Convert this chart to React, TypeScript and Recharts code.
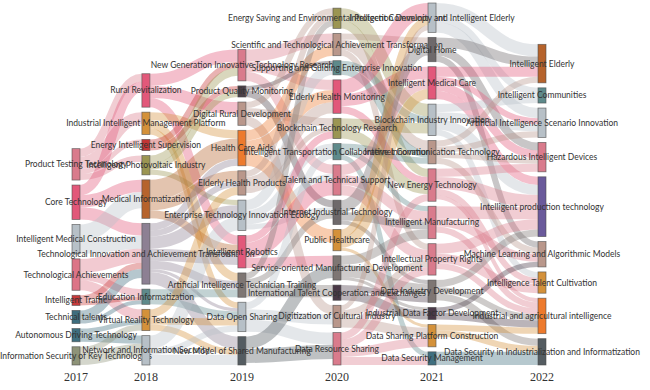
import React from 'react';
import { Sankey } from 'recharts';

const years = ['2017', '2018', '2019', '2020', '2021', '2022'];

const nodes2017 = ['Product Testing Technology', 'Core Technology', 'Intelligent Medical Construction', 'Technological Achievements', 'Intelligent Traffic', 'Technical talents', 'Autonomous Driving Technology', 'Information Security of Key Technologies'];
const colors2017 = ['#d97b8c', '#e2587a', '#b7c0c7', '#dc7487', '#c73a3a', '#3e6d7e', '#3f6f7f', '#8e9378'];

const nodes2018 = ['Rural Revitalization', 'Industrial Intelligent Management Platform', 'Energy Intelligent Supervision', 'Intelligent Photovoltaic Industry', 'Medical Informatization', 'Technological Innovation and Achievement Transformation', 'Education Informatization', 'Virtual Reality Technology', 'Network and Information Security'];
const colors2018 = ['#e2587a', '#d4913a', '#c43434', '#9b9552', '#b6632c', '#8d8093', '#5e8a8b', '#d4913a', '#b7c0c7'];

const nodes2019 = ['New Generation Innovative Technology Research', 'Product Quality Monitoring', 'Digital Rural Development', 'Health Care Aids', 'Elderly Health Products', 'Enterprise Technology Innovation Ecology', 'Intelligent Robotics', 'Artificial Intelligence Technician Training', 'Data Open Sharing', 'New Model of Shared Manufacturing'];
const colors2019 = ['#d97b8c', '#4b4149', '#b9978b', '#ed7a2d', '#b9978b', '#b7c0c7', '#e2587a', '#7e7673', '#b7c0c7', '#545c61'];

const nodes2020 = ['Energy Saving and Environmental Protection Development', 'Scientific and Technological Achievement Transformation', 'Supporting and Guiding Enterprise Innovation', 'Elderly Health Monitoring', 'Blockchain Technology Research', 'Intelligent Transportation Collaborative Innovation', 'Talent and Technical Support', 'Internet Industrial Technology', 'Public Healthcare', 'Service-oriented Manufacturing Development', 'International Talent Cooperation and Exchanges', 'Digitization of Cultural Industry', 'Data Resource Sharing'];
const colors2020 = ['#9b9552', '#b9978b', '#5e8a8b', '#e2587a', '#9b9552', '#5e8a8b', '#d97b8c', '#6e696b', '#d4913a', '#7e7673', '#4a3947', '#b9978b', '#d97b8c'];

const nodes2021 = ['Intelligent Community and Intelligent Elderly', 'Digital Home', 'Intelligent Medical Care', 'Blockchain Industry Innovation', 'Internet Communication Technology', 'New Energy Technology', 'Intelligent Manufacturing', 'Intellectual Property Rights', 'Data Industry Development', 'Industrial Data Factor Development', 'Data Sharing Platform Construction', 'Data Security Management'];
const colors2021 = ['#b7c0c7', '#6e696b', '#e2587a', '#b7c0c7', '#b9978b', '#d97b8c', '#d97b8c', '#d97b8c', '#7e7673', '#4a3947', '#d4913a', '#3f6f7f'];

const nodes2022 = ['Intelligent Elderly', 'Intelligent Communities', 'Artificial Intelligence Scenario Innovation', 'Hazardous Intelligent Devices', 'Intelligent production technology', 'Machine Learning and Algorithmic Models', 'Intelligence Talent Cultivation', 'Industrial and agricultural intelligence', 'Data Security in Industrialization and Informatization'];
const colors2022 = ['#b6632c', '#5e8a8b', '#b7c0c7', '#d97b8c', '#6a5a9b', '#b9978b', '#d4913a', '#ed7a2d', '#545c61'];

type Flow = [string, string, number];

const flows2017to2018: Flow[] = [
  ['Product Testing Technology', 'Rural Revitalization', 8],
  ['Product Testing Technology', 'Industrial Intelligent Management Platform', 12],
  ['Product Testing Technology', 'Energy Intelligent Supervision', 5],
  ['Product Testing Technology', 'Intelligent Photovoltaic Industry', 6],
  ['Core Technology', 'Rural Revitalization', 10],
  ['Core Technology', 'Medical Informatization', 12],
  ['Core Technology', 'Technological Innovation and Achievement Transformation', 12],
  ['Intelligent Medical Construction', 'Medical Informatization', 16],
  ['Intelligent Medical Construction', 'Technological Innovation and Achievement Transformation', 13],
  ['Technological Achievements', 'Technological Innovation and Achievement Transformation', 14],
  ['Technological Achievements', 'Education Informatization', 7],
  ['Technological Achievements', 'Virtual Reality Technology', 10],
  ['Intelligent Traffic', 'Technological Innovation and Achievement Transformation', 6],
  ['Intelligent Traffic', 'Education Informatization', 4],
  ['Technical talents', 'Education Informatization', 4],
  ['Technical talents', 'Technological Innovation and Achievement Transformation', 9],
  ['Autonomous Driving Technology', 'Network and Information Security', 8],
  ['Autonomous Driving Technology', 'Virtual Reality Technology', 5],
  ['Information Security of Key Technologies', 'Network and Information Security', 12],
  ['Information Security of Key Technologies', 'Virtual Reality Technology', 6],
];

const flows2018to2019: Flow[] = [
  ['Rural Revitalization', 'New Generation Innovative Technology Research', 12],
  ['Rural Revitalization', 'Digital Rural Development', 12],
  ['Rural Revitalization', 'Intelligent Robotics', 9],
  ['Industrial Intelligent Management Platform', 'Health Care Aids', 8],
  ['Industrial Intelligent Management Platform', 'Data Open Sharing', 6],
  ['Industrial Intelligent Management Platform', 'Artificial Intelligence Technician Training', 8],
  ['Energy Intelligent Supervision', 'Product Quality Monitoring', 5],
  ['Energy Intelligent Supervision', 'New Generation Innovative Technology Research', 6],
  ['Intelligent Photovoltaic Industry', 'New Generation Innovative Technology Research', 8],
  ['Intelligent Photovoltaic Industry', 'Product Quality Monitoring', 6],
  ['Intelligent Photovoltaic Industry', 'Enterprise Technology Innovation Ecology', 5],
  ['Medical Informatization', 'Health Care Aids', 20],
  ['Medical Informatization', 'Elderly Health Products', 10],
  ['Medical Informatization', 'Intelligent Robotics', 8],
  ['Technological Innovation and Achievement Transformation', 'Enterprise Technology Innovation Ecology', 12],
  ['Technological Innovation and Achievement Transformation', 'Elderly Health Products', 6],
  ['Technological Innovation and Achievement Transformation', 'Intelligent Robotics', 12],
  ['Technological Innovation and Achievement Transformation', 'Artificial Intelligence Technician Training', 8],
  ['Technological Innovation and Achievement Transformation', 'New Model of Shared Manufacturing', 12],
  ['Technological Innovation and Achievement Transformation', 'Health Care Aids', 7],
  ['Technological Innovation and Achievement Transformation', 'Data Open Sharing', 3],
  ['Education Informatization', 'Artificial Intelligence Technician Training', 8],
  ['Education Informatization', 'Data Open Sharing', 7],
  ['Virtual Reality Technology', 'Data Open Sharing', 7],
  ['Virtual Reality Technology', 'New Model of Shared Manufacturing', 6],
  ['Virtual Reality Technology', 'Elderly Health Products', 8],
  ['Network and Information Security', 'New Model of Shared Manufacturing', 10],
  ['Network and Information Security', 'Data Open Sharing', 6],
  ['Network and Information Security', 'Enterprise Technology Innovation Ecology', 13],
];

const flows2019to2020: Flow[] = [
  ['New Generation Innovative Technology Research', 'Scientific and Technological Achievement Transformation', 12],
  ['New Generation Innovative Technology Research', 'Elderly Health Monitoring', 10],
  ['New Generation Innovative Technology Research', 'Talent and Technical Support', 9],
  ['Product Quality Monitoring', 'Internet Industrial Technology', 7],
  ['Product Quality Monitoring', 'Supporting and Guiding Enterprise Innovation', 4],
  ['Digital Rural Development', 'Energy Saving and Environmental Protection Development', 6],
  ['Digital Rural Development', 'Blockchain Technology Research', 8],
  ['Digital Rural Development', 'Digitization of Cultural Industry', 9],
  ['Health Care Aids', 'Scientific and Technological Achievement Transformation', 10],
  ['Health Care Aids', 'Elderly Health Monitoring', 12],
  ['Health Care Aids', 'Public Healthcare', 13],
  ['Elderly Health Products', 'Elderly Health Monitoring', 11],
  ['Elderly Health Products', 'Blockchain Technology Research', 5],
  ['Elderly Health Products', 'Energy Saving and Environmental Protection Development', 6],
  ['Enterprise Technology Innovation Ecology', 'Supporting and Guiding Enterprise Innovation', 10],
  ['Enterprise Technology Innovation Ecology', 'Intelligent Transportation Collaborative Innovation', 8],
  ['Enterprise Technology Innovation Ecology', 'Talent and Technical Support', 6],
  ['Enterprise Technology Innovation Ecology', 'Internet Industrial Technology', 5],
  ['Intelligent Robotics', 'Talent and Technical Support', 15],
  ['Intelligent Robotics', 'Service-oriented Manufacturing Development', 10],
  ['Intelligent Robotics', 'Blockchain Technology Research', 7],
  ['Artificial Intelligence Technician Training', 'International Talent Cooperation and Exchanges', 12],
  ['Artificial Intelligence Technician Training', 'Internet Industrial Technology', 6],
  ['Artificial Intelligence Technician Training', 'Energy Saving and Environmental Protection Development', 6],
  ['Data Open Sharing', 'Digitization of Cultural Industry', 10],
  ['Data Open Sharing', 'Data Resource Sharing', 12],
  ['Data Open Sharing', 'Intelligent Transportation Collaborative Innovation', 7],
  ['New Model of Shared Manufacturing', 'Data Resource Sharing', 14],
  ['New Model of Shared Manufacturing', 'Service-oriented Manufacturing Development', 12],
];

const flows2020to2021: Flow[] = [
  ['Energy Saving and Environmental Protection Development', 'New Energy Technology', 8],
  ['Energy Saving and Environmental Protection Development', 'Blockchain Industry Innovation', 12],
  ['Scientific and Technological Achievement Transformation', 'Internet Communication Technology', 10],
  ['Scientific and Technological Achievement Transformation', 'Digital Home', 6],
  ['Scientific and Technological Achievement Transformation', 'Intellectual Property Rights', 6],
  ['Supporting and Guiding Enterprise Innovation', 'Blockchain Industry Innovation', 7],
  ['Supporting and Guiding Enterprise Innovation', 'Internet Communication Technology', 7],
  ['Elderly Health Monitoring', 'Intelligent Community and Intelligent Elderly', 14],
  ['Elderly Health Monitoring', 'Intelligent Medical Care', 12],
  ['Elderly Health Monitoring', 'New Energy Technology', 7],
  ['Blockchain Technology Research', 'Blockchain Industry Innovation', 10],
  ['Blockchain Technology Research', 'New Energy Technology', 10],
  ['Intelligent Transportation Collaborative Innovation', 'Internet Communication Technology', 6],
  ['Intelligent Transportation Collaborative Innovation', 'Data Security Management', 5],
  ['Intelligent Transportation Collaborative Innovation', 'Intelligent Manufacturing', 5],
  ['Talent and Technical Support', 'Intelligent Manufacturing', 10],
  ['Talent and Technical Support', 'Intellectual Property Rights', 10],
  ['Talent and Technical Support', 'Intelligent Medical Care', 10],
  ['Internet Industrial Technology', 'Digital Home', 12],
  ['Internet Industrial Technology', 'Intelligent Manufacturing', 8],
  ['Internet Industrial Technology', 'Data Industry Development', 4],
  ['Public Healthcare', 'Intelligent Medical Care', 10],
  ['Public Healthcare', 'Intelligent Community and Intelligent Elderly', 8],
  ['Public Healthcare', 'Data Sharing Platform Construction', 3],
  ['Service-oriented Manufacturing Development', 'Data Industry Development', 12],
  ['Service-oriented Manufacturing Development', 'Intelligent Manufacturing', 9],
  ['Service-oriented Manufacturing Development', 'Industrial Data Factor Development', 3],
  ['International Talent Cooperation and Exchanges', 'Industrial Data Factor Development', 9],
  ['International Talent Cooperation and Exchanges', 'Data Industry Development', 6],
  ['Digitization of Cultural Industry', 'Data Sharing Platform Construction', 10],
  ['Digitization of Cultural Industry', 'Intellectual Property Rights', 7],
  ['Digitization of Cultural Industry', 'Intelligent Community and Intelligent Elderly', 5],
  ['Data Resource Sharing', 'Data Sharing Platform Construction', 9],
  ['Data Resource Sharing', 'Data Security Management', 8],
  ['Data Resource Sharing', 'Intellectual Property Rights', 8],
  ['Data Resource Sharing', 'New Energy Technology', 7],
];

const flows2021to2022: Flow[] = [
  ['Intelligent Community and Intelligent Elderly', 'Intelligent Elderly', 12],
  ['Intelligent Community and Intelligent Elderly', 'Intelligent Communities', 7],
  ['Intelligent Community and Intelligent Elderly', 'Artificial Intelligence Scenario Innovation', 10],
  ['Digital Home', 'Intelligent Elderly', 10],
  ['Digital Home', 'Hazardous Intelligent Devices', 8],
  ['Digital Home', 'Machine Learning and Algorithmic Models', 6],
  ['Intelligent Medical Care', 'Intelligent Elderly', 10],
  ['Intelligent Medical Care', 'Artificial Intelligence Scenario Innovation', 6],
  ['Intelligent Medical Care', 'Hazardous Intelligent Devices', 8],
  ['Intelligent Medical Care', 'Intelligent production technology', 8],
  ['Blockchain Industry Innovation', 'Intelligent Communities', 8],
  ['Blockchain Industry Innovation', 'Intelligent production technology', 10],
  ['Blockchain Industry Innovation', 'Intelligence Talent Cultivation', 6],
  ['Blockchain Industry Innovation', 'Artificial Intelligence Scenario Innovation', 7],
  ['Internet Communication Technology', 'Intelligent Elderly', 6],
  ['Internet Communication Technology', 'Artificial Intelligence Scenario Innovation', 6],
  ['Internet Communication Technology', 'Hazardous Intelligent Devices', 5],
  ['Internet Communication Technology', 'Machine Learning and Algorithmic Models', 6],
  ['New Energy Technology', 'Intelligent production technology', 12],
  ['New Energy Technology', 'Hazardous Intelligent Devices', 8],
  ['New Energy Technology', 'Intelligence Talent Cultivation', 6],
  ['New Energy Technology', 'Industrial and agricultural intelligence', 4],
  ['Intelligent Manufacturing', 'Intelligent production technology', 12],
  ['Intelligent Manufacturing', 'Industrial and agricultural intelligence', 6],
  ['Intelligent Manufacturing', 'Machine Learning and Algorithmic Models', 8],
  ['Intellectual Property Rights', 'Intelligent production technology', 10],
  ['Intellectual Property Rights', 'Intelligence Talent Cultivation', 9],
  ['Intellectual Property Rights', 'Industrial and agricultural intelligence', 6],
  ['Data Industry Development', 'Industrial and agricultural intelligence', 6],
  ['Data Industry Development', 'Data Security in Industrialization and Informatization', 7],
  ['Data Industry Development', 'Intelligent production technology', 7],
  ['Industrial Data Factor Development', 'Machine Learning and Algorithmic Models', 5],
  ['Industrial Data Factor Development', 'Industrial and agricultural intelligence', 7],
  ['Data Sharing Platform Construction', 'Industrial and agricultural intelligence', 6],
  ['Data Sharing Platform Construction', 'Data Security in Industrialization and Informatization', 6],
  ['Data Security Management', 'Data Security in Industrialization and Informatization', 13],
];

// relative horizontal placement of the six year columns (0 = first, 1 = last)
const columnFractions = [0, 0.15, 0.356, 0.56, 0.764, 1];

const columns = [
  { names: nodes2017, colors: colors2017 },
  { names: nodes2018, colors: colors2018 },
  { names: nodes2019, colors: colors2019 },
  { names: nodes2020, colors: colors2020 },
  { names: nodes2021, colors: colors2021 },
  { names: nodes2022, colors: colors2022 },
];

const sankeyNodes: any[] = [];
columns.forEach((col, ci) => {
  col.names.forEach((name, i) => {
    sankeyNodes.push({ name, color: col.colors[i], year: i === 0 ? years[ci] : undefined });
  });
});
const indexOf: Record<string, number> = {};
sankeyNodes.forEach((n, i) => { indexOf[n.name] = i; });

const allFlows = [...flows2017to2018, ...flows2018to2019, ...flows2019to2020, ...flows2020to2021, ...flows2021to2022];
const sankeyLinks = allFlows.map(([s, t, v]) => ({ source: indexOf[s], target: indexOf[t], value: v }));

const data = { nodes: sankeyNodes, links: sankeyLinks };

const CHART_W = 650;
const CHART_H = 390;
const MARGIN = { top: 3, bottom: 25, left: 72, right: 104 };
const NODE_W = 8;
const MAX_DEPTH = years.length - 1;
const CHILD_W = (CHART_W - MARGIN.left - MARGIN.right - NODE_W) / MAX_DEPTH;
const YEAR_BASELINE = 381;

const shiftFor = (depth: number) => (columnFractions[depth] * MAX_DEPTH - depth) * CHILD_W;

function NodeShape(props: any) {
  const { x, y, width, height, payload } = props;
  const nx = x + shiftFor(payload.depth);
  const cx = nx + width / 2;
  return (
    <g>
      <rect x={nx} y={y} width={width} height={height} fill={payload.color} stroke="#4a4a4a" strokeOpacity={0.7} strokeWidth={0.8} />
      <text x={cx} y={y + height / 2} textAnchor="middle" dominantBaseline="central" fontSize={8.5} fontFamily="Lato, sans-serif" fill="#333">
        {payload.name}
      </text>
      {payload.year ? (
        <text x={cx} y={YEAR_BASELINE} textAnchor="middle" fontSize={12} fontFamily="'Liberation Serif', serif" fill="#333">
          {payload.year}
        </text>
      ) : null}
    </g>
  );
}

function LinkShape(props: any) {
  const { sourceX, targetX, sourceY, targetY, linkWidth, payload } = props;
  const src = payload && payload.source ? payload.source : null;
  const tgt = payload && payload.target ? payload.target : null;
  const sx = sourceX + (src ? shiftFor(src.depth) : 0);
  const tx = targetX + (tgt ? shiftFor(tgt.depth) : 0);
  const c1 = sx + (tx - sx) * 0.5;
  const c2 = tx - (tx - sx) * 0.5;
  const color = src ? src.color : '#ccc';
  return (
    <path
      d={`M${sx},${sourceY} C${c1},${sourceY} ${c2},${targetY} ${tx},${targetY}`}
      fill="none"
      stroke={color}
      strokeOpacity={0.38}
      strokeWidth={Math.max(linkWidth, 1)}
    />
  );
}

export default function App() {
  return (
    <div style={{ position: 'absolute', left: 0, top: 0, width: CHART_W, height: CHART_H, background: '#fff' }}>
      <Sankey
        width={CHART_W}
        height={CHART_H}
        data={data}
        nodeWidth={NODE_W}
        nodePadding={5}
        iterations={32}
        sort={false}
        margin={MARGIN}
        node={(p: any) => <NodeShape {...p} />}
        link={(p: any) => <LinkShape {...p} />}
      />
    </div>
  );
}
